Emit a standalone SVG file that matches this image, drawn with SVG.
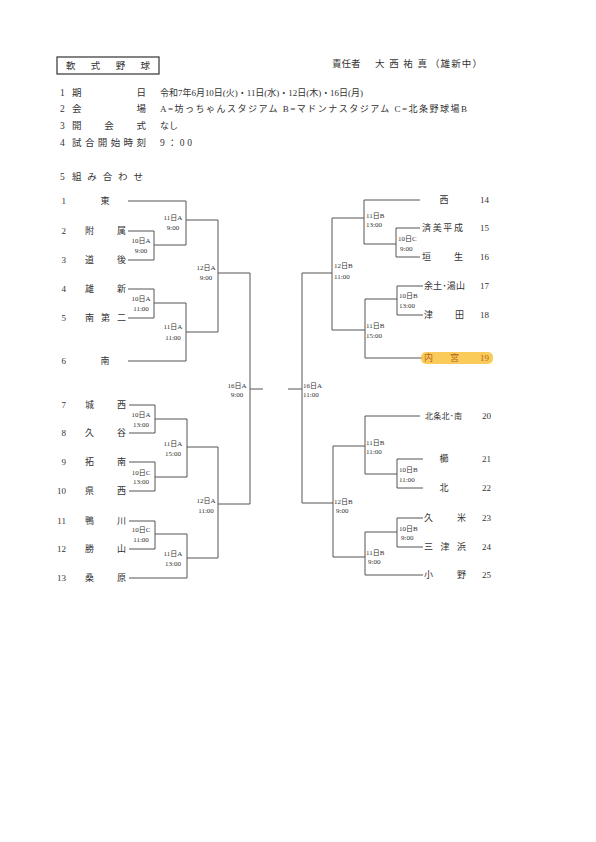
<svg xmlns="http://www.w3.org/2000/svg" width="596" height="842" viewBox="0 0 596 842">
<style>
.t{font-family:"Liberation Serif","Noto Sans CJK JP",serif;fill:#333}
.h{font-size:9.5px}
.n{font-size:9px}
.s{font-size:8px}
.l{font-size:7px}
.lc{text-anchor:middle}
.num{font-size:9px;text-anchor:end}
.c{fill:none;stroke:#555;stroke-width:1}
</style>
<rect width="596" height="842" fill="#fff"/>
<g id="header">
<rect x="57" y="57" width="102" height="17" fill="none" stroke="#333" stroke-width="1.2"/>
<text class="t h" x="66" y="68.5" textLength="84" lengthAdjust="spacing">軟式野球</text>
<text class="t h" x="332" y="66.5">責任者</text>
<text class="t h" x="375" y="66.5" textLength="52" lengthAdjust="spacing">大西祐真</text>
<text class="t h" x="430" y="66.5" textLength="52" lengthAdjust="spacing">（雄新中）</text>
<text class="t h" x="60" y="95.5">1</text>
<text class="t h" x="72" y="95.5" textLength="74" lengthAdjust="spacing">期日</text>
<text class="t" x="160" y="95.5" font-size="9" textLength="203" lengthAdjust="spacing">令和7年6月10日(火)・11日(水)・12日(木)・16日(月)</text>
<text class="t h" x="60" y="111.5">2</text>
<text class="t h" x="72" y="111.5" textLength="74" lengthAdjust="spacing">会場</text>
<text class="t" x="160" y="111.5" font-size="9" textLength="307" lengthAdjust="spacing">A=坊っちゃんスタジアム B=マドンナスタジアム C=北条野球場B</text>
<text class="t h" x="60" y="128.5">3</text>
<text class="t h" x="72" y="128.5" textLength="74" lengthAdjust="spacing">開会式</text>
<text class="t" x="160" y="128.5" font-size="9">なし</text>
<text class="t h" x="60" y="145.5">4</text>
<text class="t h" x="72" y="145.5" textLength="74" lengthAdjust="spacing">試合開始時刻</text>
<text class="t h" x="160" y="145.5" textLength="32" lengthAdjust="spacing">9：00</text>
<text class="t h" x="60" y="179.5">5</text>
<text class="t h" x="72" y="179.5" textLength="71" lengthAdjust="spacing">組み合わせ</text>
</g>
<g id="connectors" class="c">
<path class="c" d="M128,201H186V245M128,231H154V260H128M154,245H186M186,220H218"/>
<path class="c" d="M128,289H154V318H128M154,303H186V361H128M186,332H218M218,220V332M218,273H250"/>
<path class="c" d="M129,405H155V433H129M155,419H187M129,462H155V491H129M155,477H187M187,419V477M187,447H218"/>
<path class="c" d="M129,521H155V549H129M155,534H187V578H129M187,558H218M218,447V558M218,504H250"/>
<path class="c" d="M250,273V504M250,389H263"/>
<path class="c" d="M420,200H364V244H396M420,228H396V257H420M364,218H332"/>
<path class="c" d="M423,286H397V315H423M397,299H365V358H423M365,330H332M332,218V330M332,273H302"/>
<path class="c" d="M420,416H365V474H397M423,459H397V488H423M365,446H333"/>
<path class="c" d="M423,518H397V547H423M397,532H365V575H423M365,557H333M333,446V557M333,503H302"/>
<path class="c" d="M302,273V503M302,389H288"/>
</g>
<g id="left-teams">
<g id="t1"><text class="t num" x="66" y="204">1</text><text class="t n lc" x="105" y="204">東</text></g>
<g id="t2"><text class="t num" x="66" y="234">2</text><text class="t n" x="85" y="234" textLength="41" lengthAdjust="spacing">附属</text></g>
<g id="t3"><text class="t num" x="66" y="263">3</text><text class="t n" x="85" y="263" textLength="41" lengthAdjust="spacing">道後</text></g>
<g id="t4"><text class="t num" x="66" y="292">4</text><text class="t n" x="85" y="292" textLength="41" lengthAdjust="spacing">雄新</text></g>
<g id="t5"><text class="t num" x="66" y="321">5</text><text class="t n" x="85" y="321" textLength="41" lengthAdjust="spacing">南第二</text></g>
<g id="t6"><text class="t num" x="66" y="364">6</text><text class="t n lc" x="105" y="364">南</text></g>
<g id="t7"><text class="t num" x="66" y="408">7</text><text class="t n" x="85" y="408" textLength="41" lengthAdjust="spacing">城西</text></g>
<g id="t8"><text class="t num" x="66" y="436">8</text><text class="t n" x="85" y="436" textLength="41" lengthAdjust="spacing">久谷</text></g>
<g id="t9"><text class="t num" x="66" y="465">9</text><text class="t n" x="85" y="465" textLength="41" lengthAdjust="spacing">拓南</text></g>
<g id="t10"><text class="t num" x="66" y="494">10</text><text class="t n" x="85" y="494" textLength="41" lengthAdjust="spacing">県西</text></g>
<g id="t11"><text class="t num" x="66" y="524">11</text><text class="t n" x="85" y="524" textLength="41" lengthAdjust="spacing">鴨川</text></g>
<g id="t12"><text class="t num" x="66" y="552">12</text><text class="t n" x="85" y="552" textLength="41" lengthAdjust="spacing">勝山</text></g>
<g id="t13"><text class="t num" x="66" y="581">13</text><text class="t n" x="85" y="581" textLength="41" lengthAdjust="spacing">桑原</text></g>
</g>
<g id="right-teams">
<g id="t14"><text class="t n lc" x="444" y="203">西</text><text class="t n" x="480" y="203">14</text></g>
<g id="t15"><text class="t n" x="422" y="231" textLength="41" lengthAdjust="spacing">済美平成</text><text class="t n" x="480" y="231">15</text></g>
<g id="t16"><text class="t n" x="422" y="260" textLength="41" lengthAdjust="spacing">垣生</text><text class="t n" x="480" y="260">16</text></g>
<g id="t17"><text class="t n" x="424" y="289" textLength="41" lengthAdjust="spacing">余土･湯山</text><text class="t n" x="480" y="289">17</text></g>
<g id="t18"><text class="t n" x="424" y="318" textLength="40" lengthAdjust="spacing">津田</text><text class="t n" x="480" y="318">18</text></g>
<g id="t19"><rect x="421" y="352" width="72" height="12" rx="5" fill="#f9c23c" opacity="0.85"/><text class="t n" x="424" y="361" textLength="35" lengthAdjust="spacing" style="fill:#b5651d">内宮</text><text class="t n" x="480" y="361" style="fill:#b5651d">19</text></g>
<g id="t20"><text class="t s" x="425" y="419" textLength="37" lengthAdjust="spacing">北条北･南</text><text class="t n" x="482" y="419">20</text></g>
<g id="t21"><text class="t n lc" x="444" y="462">櫛</text><text class="t n" x="482" y="462">21</text></g>
<g id="t22"><text class="t n lc" x="444" y="491">北</text><text class="t n" x="482" y="491">22</text></g>
<g id="t23"><text class="t n" x="424" y="521" textLength="42" lengthAdjust="spacing">久米</text><text class="t n" x="482" y="521">23</text></g>
<g id="t24"><text class="t n" x="424" y="550" textLength="42" lengthAdjust="spacing">三津浜</text><text class="t n" x="482" y="550">24</text></g>
<g id="t25"><text class="t n" x="424" y="578" textLength="42" lengthAdjust="spacing">小野</text><text class="t n" x="482" y="578">25</text></g>
</g>
<g id="left-games">
<g id="gL1"><text class="t l lc" x="141" y="242.5">10日A</text><text class="t l lc" x="141" y="252.5">9:00</text></g>
<g id="gL2"><text class="t l lc" x="173" y="219.5">11日A</text><text class="t l lc" x="173" y="229.5">9:00</text></g>
<g id="gL3"><text class="t l lc" x="141" y="300.5">10日A</text><text class="t l lc" x="141" y="311">11:00</text></g>
<g id="gL4"><text class="t l lc" x="173" y="328.5">11日A</text><text class="t l lc" x="173" y="339.5">11:00</text></g>
<g id="gL5"><text class="t l lc" x="206" y="269.5">12日A</text><text class="t l lc" x="206" y="280">9:00</text></g>
<g id="gL6"><text class="t l lc" x="141" y="416.5">10日A</text><text class="t l lc" x="141" y="426.5">13:00</text></g>
<g id="gL7"><text class="t l lc" x="141" y="475">10日C</text><text class="t l lc" x="141" y="484">13:00</text></g>
<g id="gL8"><text class="t l lc" x="173" y="445.5">11日A</text><text class="t l lc" x="173" y="455.5">15:00</text></g>
<g id="gL9"><text class="t l lc" x="141" y="531.5">10日C</text><text class="t l lc" x="141" y="541.5">11:00</text></g>
<g id="gL10"><text class="t l lc" x="173" y="555.5">11日A</text><text class="t l lc" x="173" y="565.5">13:00</text></g>
<g id="gL11"><text class="t l lc" x="206" y="502.5">12日A</text><text class="t l lc" x="206" y="512.5">11:00</text></g>
<g id="gL12"><text class="t l lc" x="237" y="387.5">16日A</text><text class="t l lc" x="237" y="396.5">9:00</text></g>
</g>
<g id="right-games">
<g id="gR1"><text class="t l" x="366" y="217.5">11日B</text><text class="t l" x="366" y="226.5">13:00</text></g>
<g id="gR2"><text class="t l" x="398" y="240.5">10日C</text><text class="t l" x="400" y="250.5">9:00</text></g>
<g id="gR3"><text class="t l" x="334" y="267.5">12日B</text><text class="t l" x="334" y="279">11:00</text></g>
<g id="gR4"><text class="t l" x="399" y="297.5">10日B</text><text class="t l" x="399" y="308">13:00</text></g>
<g id="gR5"><text class="t l" x="366" y="327.5">11日B</text><text class="t l" x="366" y="337.5">15:00</text></g>
<g id="gR6"><text class="t l" x="303" y="387.5">16日A</text><text class="t l" x="303" y="396.5">11:00</text></g>
<g id="gR7"><text class="t l" x="366" y="444.5">11日B</text><text class="t l" x="366" y="453.5">11:00</text></g>
<g id="gR8"><text class="t l" x="399" y="471.5">10日B</text><text class="t l" x="399" y="481.5">11:00</text></g>
<g id="gR9"><text class="t l" x="334" y="504">12日B</text><text class="t l" x="336" y="513">9:00</text></g>
<g id="gR10"><text class="t l" x="399" y="530.5">10日B</text><text class="t l" x="401" y="539.5">9:00</text></g>
<g id="gR11"><text class="t l" x="366" y="554.5">11日B</text><text class="t l" x="368" y="563.5">9:00</text></g>
</g>
</svg>
